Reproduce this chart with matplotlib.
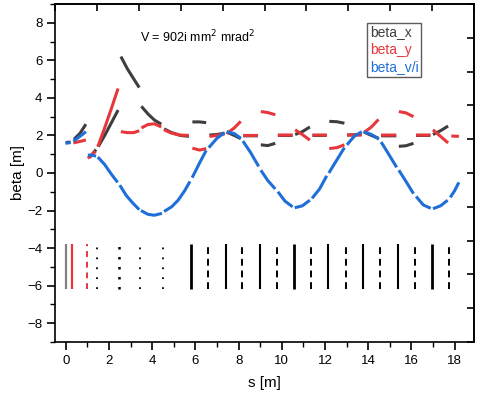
import numpy as np
import matplotlib
matplotlib.use("Agg")
import matplotlib.pyplot as plt
from matplotlib.ticker import MultipleLocator, FixedLocator, NullFormatter
from matplotlib.lines import Line2D

plt.rcParams['font.family'] = ['Liberation Sans', 'DejaVu Sans']

N = np.nan
# beta_x (piecewise per lattice element, NaN = gap)
bx_s = [0.0, 0.22, N, 0.38, 0.65, 0.93, N, 1.1, 1.4, N, 1.5, 1.8, 2.1, 2.42, N,
        2.55, 2.85, 3.15, 3.4, N, 3.5, 3.8, 4.1, 4.42, N, 4.55, 4.9, 5.3, 5.7, N,
        5.86, 6.2, 6.5, N, 6.65, 7.0, 7.35, N, 7.45, 7.8, 8.1, N, 8.22, 8.9, N,
        9.03, 9.35, 9.7, N, 9.82, 10.5, N, 10.62, 10.95, 11.3, N, 11.42, 12.08, N,
        12.2, 12.55, 12.9, N, 13.02, 13.7, N, 13.8, 14.15, 14.48, N, 14.6, 15.3, N,
        15.42, 15.75, 16.1, N, 16.22, 16.88, N, 17.0, 17.35, 17.7]
bx_v = [1.62, 1.65, N, 1.8, 2.1, 2.6, N, 0.82, 1.25, N, 1.4, 2.0, 2.65, 3.35, N,
        6.2, 5.55, 5.0, 4.55, N, 3.55, 3.15, 2.82, 2.6, N, 2.35, 2.15, 2.0, 1.95, N,
        2.72, 2.72, 2.68, N, 2.02, 2.05, 2.12, N, 2.18, 2.0, 1.83, N, 1.98, 1.98, N,
        1.5, 1.46, 1.58, N, 2.0, 2.0, N, 2.05, 2.2, 2.45, N, 2.0, 2.0, N,
        2.75, 2.73, 2.65, N, 2.02, 2.05, N, 2.18, 2.0, 1.85, N, 1.98, 1.98, N,
        1.42, 1.45, 1.58, N, 2.0, 2.0, N, 2.05, 2.25, 2.5]

# beta_y
by_s = [0.35, 0.65, 0.93, N, 1.02, 1.38, N, 1.48, 1.8, 2.1, 2.42, N,
        2.55, 2.85, 3.15, 3.4, N, 3.5, 3.8, 4.1, 4.42, N, 4.55, 4.9, 5.3, 5.7, N,
        5.86, 6.2, 6.5, N, 6.65, 7.0, 7.35, N, 7.45, 7.8, 8.1, N, 8.22, 8.9, N,
        9.03, 9.35, 9.7, N, 9.82, 10.5, N, 10.62, 10.95, 11.3, N, 11.42, 12.08, N,
        12.2, 12.55, 12.9, N, 13.02, 13.7, N, 13.8, 14.15, 14.48, N, 14.6, 15.3, N,
        15.42, 15.75, 16.1, N, 16.22, 16.88, N, 17.0, 17.35, 17.7, N, 17.85, 18.2]
by_v = [1.6, 1.68, 1.76, N, 0.78, 1.15, N, 1.4, 2.4, 3.4, 4.5, N,
        2.2, 2.15, 2.15, 2.25, N, 2.4, 2.58, 2.62, 2.45, N, 2.3, 2.12, 2.02, 2.0, N,
        1.32, 1.22, 1.3, N, 1.95, 2.0, 2.08, N, 2.1, 2.4, 2.75, N, 2.0, 2.0, N,
        3.27, 3.22, 3.1, N, 2.02, 2.02, N, 2.3, 2.05, 1.75, N, 2.02, 2.02, N,
        1.3, 1.35, 1.5, N, 2.02, 2.02, N, 2.15, 2.45, 2.85, N, 2.02, 2.02, N,
        3.27, 3.2, 3.0, N, 2.02, 2.02, N, 2.3, 1.95, 1.6, N, 1.97, 1.95]

# beta_v/i
bv_s = [-0.02, 0.22, N, 0.35, 0.6, 0.93, N, 1.02, 1.2, 1.4, N, 1.48, 1.8, 2.1, 2.4, N,
        2.5, 2.8, 3.1, 3.4, N, 3.48, 3.8, 4.1, 4.45, N, 4.55, 4.9, 5.2, 5.5, 5.75, N,
        5.85, 6.2, 6.5, N, 6.62, 7.0, 7.35, N, 7.45, 7.8, 8.1, N, 8.2, 8.55, 8.93, N,
        9.03, 9.35, 9.7, N, 9.82, 10.15, 10.5, N, 10.6, 10.95, 11.3, N, 11.4, 11.75, 12.08, N,
        12.18, 12.55, 12.9, N, 13.02, 13.35, 13.7, N, 13.8, 14.15, 14.5, N,
        14.6, 14.95, 15.32, N, 15.42, 15.75, 16.1, N, 16.22, 16.55, 16.9, N,
        17.0, 17.35, 17.68, N, 17.8, 18.0, 18.2]
bv_v = [1.58, 1.62, N, 1.7, 1.9, 2.2, N, 0.95, 0.95, 0.9, N, 0.85, 0.45, -0.05, -0.5, N,
        -0.65, -1.2, -1.6, -1.95, N, -2.0, -2.2, -2.25, -2.15, N, -2.05, -1.8, -1.45, -0.95, -0.45, N,
        -0.25, 0.55, 1.2, N, 1.35, 1.85, 2.15, N, 2.2, 2.1, 1.85, N, 1.7, 1.1, 0.35, N,
        0.15, -0.4, -0.85, N, -1.0, -1.5, -1.8, N, -1.85, -1.75, -1.45, N, -1.35, -0.85, -0.15, N,
        0.0, 0.7, 1.35, N, 1.5, 1.95, 2.2, N, 2.2, 2.05, 1.8, N,
        1.65, 1.0, 0.3, N, 0.15, -0.45, -1.1, N, -1.25, -1.7, -1.88, N,
        -1.9, -1.75, -1.45, N, -1.3, -0.95, -0.5]

# lattice elements
elem_s = [0.0, 0.28, 1.0, 1.43, 2.45, 3.43, 4.49, 5.79, 6.57, 7.4, 8.15, 8.98, 9.76,
          10.55, 11.34, 12.13, 12.96, 13.75, 14.54, 15.37, 16.16, 16.94, 17.73]
elem_kind = ['start', 'sol', 'rf', 'mark', 'markb', 'mark', 'mark', 'qF', 'qd', 'q', 'qd',
             'q', 'qd', 'qF', 'qd', 'q', 'qd', 'q', 'qd', 'q', 'qd', 'qF', 'qd']
elem_lo, elem_hi = -6.2, -3.8

series_labels = ['beta_x', 'beta_y', 'beta_v/i']
annot = 'V = 902i mm$^2$ mrad$^2$'

c_x, c_y, c_v = '#3e3e3e', '#e8363a', '#1f6fd8'

fig = plt.figure(figsize=(4.8, 3.98), dpi=100)
ax = fig.add_axes([0.1146, 0.1407, 0.8729, 0.8493])

lw = 2.2
ax.plot(bx_s, bx_v, color=c_x, lw=lw, solid_capstyle='butt')
ax.plot(by_s, by_v, color=c_y, lw=lw, solid_capstyle='butt')
ax.plot(bv_s, bv_v, color=c_v, lw=lw, solid_capstyle='butt')

styles = {
    'start': dict(color='#808080', lw=1.6, ls='-'),
    'sol': dict(color=c_y, lw=1.6, ls='-'),
    'rf': dict(color=c_y, lw=1.4, ls=(0, (3.0, 2.5))),
    'mark': dict(color='black', lw=1.3, ls=(0, (1, 4.5))),
    'markb': dict(color='black', lw=1.8, ls=(0, (1, 3))),
    'qF': dict(color='black', lw=2.0, ls='-'),
    'q': dict(color='black', lw=1.5, ls='-'),
    'qd': dict(color='black', lw=1.4, ls=(0, (3.5, 2.5))),
}
for s, k in zip(elem_s, elem_kind):
    ax.vlines(s, elem_lo, elem_hi, **styles[k])

ax.set_xlim(-0.5, 18.9)
ax.set_ylim(-9, 9)
ax.xaxis.set_major_locator(MultipleLocator(2))
ax.xaxis.set_minor_locator(MultipleLocator(1))
ax.yaxis.set_major_locator(MultipleLocator(2))
ax.yaxis.set_minor_locator(MultipleLocator(1))
ax.tick_params(axis='both', which='major', direction='out', length=6, width=1.2,
               labelsize=9.5, pad=3)
ax.tick_params(axis='both', which='minor', direction='out', length=3.5, width=1.0)
for sp in ax.spines.values():
    sp.set_linewidth(1.2)

# top / right axes with unlabeled inward ticks
axt = ax.secondary_xaxis('top')
axt.xaxis.set_major_locator(FixedLocator(list(np.linspace(-0.5, 18.9, 11))))
axt.xaxis.set_major_formatter(NullFormatter())
axt.tick_params(direction='in', length=5, width=1.2)
axt.spines['top'].set_linewidth(1.2)
axr = ax.secondary_yaxis('right')
axr.yaxis.set_major_locator(FixedLocator(list(np.linspace(-9, 9, 11))))
axr.yaxis.set_major_formatter(NullFormatter())
axr.tick_params(direction='in', length=5, width=1.2)
axr.spines['right'].set_linewidth(1.2)

ax.set_xlabel('s [m]', fontsize=11, labelpad=7)
ax.set_ylabel('beta [m]', fontsize=11, labelpad=2)

ax.text(3.45, 7.25, annot, fontsize=9, ha='left', va='center')

# legend: text only, colored
handles = [Line2D([], [], color='none') for _ in series_labels]
leg = ax.legend(handles, series_labels, loc='upper left', bbox_to_anchor=(0.745, 0.945),
                fontsize=10, handlelength=0, handletextpad=0, borderpad=0.2,
                labelspacing=0.25, fancybox=False, frameon=True, borderaxespad=0)
leg.get_frame().set_edgecolor('#333333')
leg.get_frame().set_linewidth(1.0)
for t, c in zip(leg.get_texts(), [c_x, c_y, c_v]):
    t.set_color(c)

fig.savefig('out.png', dpi=100)
